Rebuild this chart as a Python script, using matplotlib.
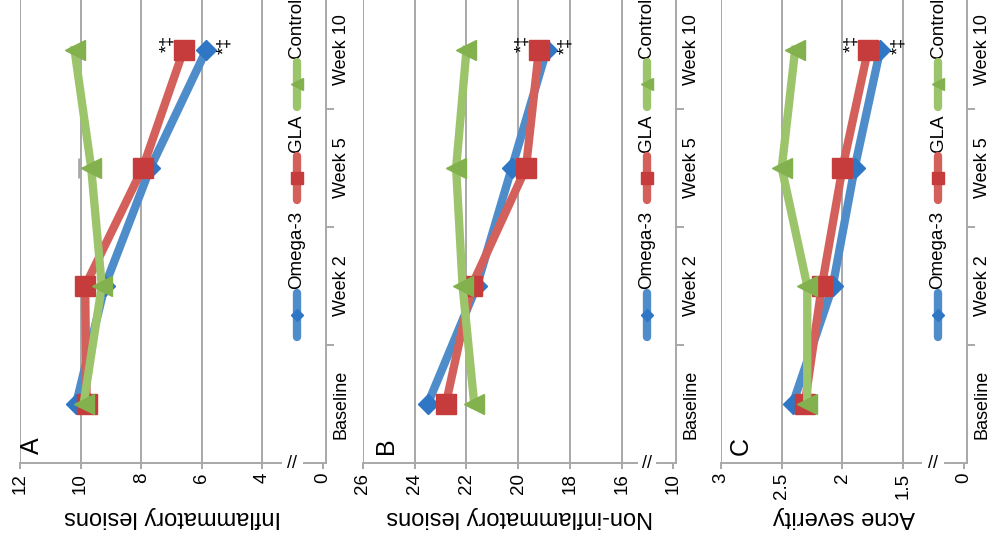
import matplotlib
matplotlib.use('Agg')
import matplotlib.pyplot as plt
import matplotlib.transforms as mtransforms

plt.rcParams['font.family'] = ['Liberation Sans', 'DejaVu Sans']

weeks = ['Baseline', 'Week 2', 'Week 5', 'Week 10']
groups = ['Omega-3', 'GLA', 'Control']

# A - inflammatory lesions
inflam_omega3 = [10.15, 9.2, 7.7, 5.85]
inflam_gla = [9.8, 9.85, 7.95, 6.6]
inflam_control = [9.9, 9.3, 9.65, 10.2]
inflam_control_err = [0, 0, 0.4, 0]
inflam_ticks = [12, 10, 8, 6, 4]

# B - non-inflammatory lesions
noninf_omega3 = [23.5, 21.6, 20.25, 18.9]
noninf_gla = [22.8, 21.8, 19.7, 19.2]
noninf_control = [21.7, 22.15, 22.4, 22.0]
noninf_ticks = [26, 24, 22, 20, 18, 16]

# C - acne severity
sev_omega3 = [2.41, 2.08, 1.9, 1.69]
sev_gla = [2.31, 2.17, 2.0, 1.79]
sev_control = [2.29, 2.29, 2.5, 2.39]
sev_ticks = [3, 2.5, 2, 1.5]

signif = '*\u2021'

GRAY = '#a8a8a8'
line_cols = ['#4f8dca', '#d4605c', '#9cc56b']
mark_cols = ['#2f76c4', '#c63c3c', '#82b14d']
markers = ['D', 's', '<']
msizes = [10, 14.5, 14.5]

W, H = 991, 547
fig = plt.figure(figsize=(W / 100, H / 100), dpi=100)
fig.patch.set_facecolor('white')

# pixel extents of the three panels (left, right)
panel_px = [(20, 326), (363, 676), (721, 967)]
bottom_px = 463
height_px = 472
letter_px = [12, 23, 20]
legend_px = 29


def draw_panel(left, right, ticks, zero_label, series, err, label, letter, letter_dx):
    ax = fig.add_axes([left / W, (H - bottom_px) / H, (right - left) / W, height_px / H])
    step = ticks[-2] - ticks[-1]
    fake_zero = ticks[-1] - step
    ax.set_xlim(ticks[0], fake_zero - 0.05 * step)
    ax.set_ylim(-0.5, 3.5)
    pos = list(range(len(weeks)))

    for t in ticks:
        ax.axvline(t, color=GRAY, lw=1.4, zorder=0)

    if err is not None:
        ax.errorbar(series[2][2], pos[2], xerr=[[0], [err[2]]], color=GRAY,
                    capsize=7, elinewidth=1.4, capthick=2, zorder=1, fmt='none')

    for i, vals in enumerate(series):
        ax.plot(vals, pos, color=line_cols[i], lw=6, solid_joinstyle='round',
                marker=markers[i], ms=msizes[i], mfc=mark_cols[i], mec=mark_cols[i],
                zorder=2 + i)

    # significance marks at week 10
    ax.annotate(signif, (series[1][3], pos[3]), xytext=(-11.5, 5),
                textcoords='offset points', rotation=90, ha='center', va='center',
                fontsize=13, zorder=10)
    ax.annotate(signif, (series[0][3], pos[3]), xytext=(13.5, 3),
                textcoords='offset points', rotation=90, ha='center', va='center',
                fontsize=13, zorder=10)

    # spines and ticks
    for s in ['top', 'left', 'bottom']:
        ax.spines[s].set_visible(False)
    ax.spines['right'].set_color(GRAY)
    ax.spines['right'].set_linewidth(1.4)

    ax.set_xticks(ticks + [fake_zero])
    ax.set_xticklabels([f'{t:g}' for t in ticks] + [zero_label], rotation=90,
                       fontsize=13.5)
    ax.tick_params(axis='x', length=4, width=1.4, color=GRAY, pad=3)

    ax.yaxis.tick_right()
    ax.set_yticks(pos)
    ax.set_yticklabels(weeks, rotation=90, va='center', fontsize=13)
    ax.set_yticks([0.5, 1.5, 2.5], minor=True)
    ax.tick_params(axis='y', which='major', length=0, pad=5)
    ax.tick_params(axis='y', which='minor', length=6, width=1.4, color=GRAY)

    # bottom axis line with a break
    trans = ax.get_xaxis_transform()
    gap_a = ticks[-1] - 0.3 * step
    gap_b = ticks[-1] - 0.68 * step
    ax.plot([ticks[0], gap_a], [0, 0], transform=trans, color=GRAY, lw=1.4, clip_on=False)
    ax.plot([gap_b, fake_zero - 0.05 * step], [0, 0], transform=trans, color=GRAY,
            lw=1.4, clip_on=False)
    ax.text((gap_a + gap_b) / 2, 0, '//', transform=trans, ha='center', va='center',
            fontsize=13, color='black')

    # value axis title (upside down, under the panel)
    ax.text(0.5, -0.1144, label, transform=ax.transAxes, rotation=180,
            ha='center', va='center', fontsize=17)
    ax.text(letter_dx / (right - left), 0.036, letter, transform=ax.transAxes,
            rotation=90, ha='center', va='center', fontsize=18)

    # legend drawn along the category axis
    lt = mtransforms.blended_transform_factory(ax.transAxes, ax.transData)
    lx = 1 - legend_px / (right - left)
    spans = [(0.57, 0.94), (1.73, 2.10), (2.52, 2.90)]
    leg_ms = [6, 9, 9]
    for i, (y0, y1) in enumerate(spans):
        ax.plot([lx, lx], [y0, y1], transform=lt, color=line_cols[i], lw=6,
                solid_capstyle='round', clip_on=False, zorder=5)
        ax.plot([lx], [(y0 + y1) / 2], transform=lt, marker=markers[i], ms=leg_ms[i],
                color=mark_cols[i], clip_on=False, zorder=6)
        ax.text(lx, y1 + 0.035, groups[i], transform=lt, rotation=90,
                rotation_mode='anchor', ha='left', va='center', fontsize=13.5)
    return ax


draw_panel(*panel_px[0], inflam_ticks, '0',
           [inflam_omega3, inflam_gla, inflam_control], inflam_control_err,
           'Inflammatory lesions', 'A', letter_px[0])
draw_panel(*panel_px[1], noninf_ticks, '10',
           [noninf_omega3, noninf_gla, noninf_control], None,
           'Non-inflammatory lesions', 'B', letter_px[1])
draw_panel(*panel_px[2], sev_ticks, '0',
           [sev_omega3, sev_gla, sev_control], None,
           'Acne severity', 'C', letter_px[2])

fig.savefig('out.png', dpi=100)
